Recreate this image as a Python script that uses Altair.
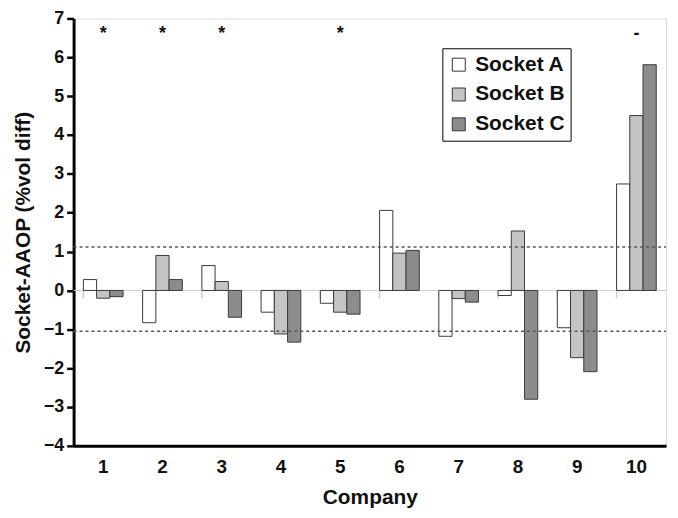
import altair as alt
import pandas as pd

companies = ["1", "2", "3", "4", "5", "6", "7", "8", "9", "10"]
socket_a = [0.28, -0.83, 0.64, -0.56, -0.33, 2.06, -1.18, -0.13, -0.96, 2.74]
socket_b = [-0.20, 0.90, 0.23, -1.12, -0.56, 0.96, -0.21, 1.53, -1.73, 4.50]
socket_c = [-0.16, 0.28, -0.69, -1.33, -0.61, 1.03, -0.30, -2.80, -2.09, 5.81]
series = ["Socket A", "Socket B", "Socket C"]
colors = ["#ffffff", "#c4c4c4", "#8c8c8c"]
threshold_lines = [1.12, -1.05]
mark_companies = ["1", "2", "3", "5", "10"]
mark_symbols = ["*", "*", "*", "*", "-"]
mark_level = 6.6
y_ticks = [-4, -3, -2, -1, 0, 1, 2, 3, 4, 5, 6, 7]

rows = []
for name, vals in zip(series, [socket_a, socket_b, socket_c]):
    for c, v in zip(companies, vals):
        rows.append({"Company": c, "Socket": name, "value": v})
df = pd.DataFrame(rows)
marks_df = pd.DataFrame({"Company": mark_companies, "sym": mark_symbols, "y": [mark_level] * len(mark_companies)})
thr_df = pd.DataFrame({"y": threshold_lines})
comp_df = pd.DataFrame({"Company": companies})

FONT = "Liberation Sans"

xscale = alt.Scale(domain=companies, paddingInner=0.33, paddingOuter=0.165)
yscale = alt.Scale(domain=[-4, 7], nice=False)

x_axis = alt.Axis(title="Company", labelAngle=0, ticks=False, labelPadding=12,
                  titlePadding=10, labelFontSize=19, titleFontSize=21,
                  labelFontWeight="bold", titleFontWeight="bold",
                  domainColor="black", domainWidth=3, grid=False,
                  labelColor="#111", titleColor="#111")
y_axis = alt.Axis(title="Socket-AAOP (%vol diff)", values=y_ticks, labelOverlap=False,
                  tickSize=7, tickWidth=2.5, tickColor="black", labelFontSize=18,
                  titleFontSize=21, labelFontWeight="bold", titleFontWeight="bold",
                  domainColor="black", domainWidth=3, grid=False, labelPadding=3,
                  titlePadding=10, labelColor="#111", titleColor="#111")

x_enc = alt.X("Company:N", scale=xscale, sort=companies, axis=x_axis)

zero_line = alt.Chart(pd.DataFrame({"y": [0]})).mark_rule(color="#cccccc", strokeWidth=1).encode(
    x=alt.value(0),
    x2=alt.value(596),
    y=alt.Y("y:Q", scale=yscale, axis=y_axis),
)

bound_ticks = alt.Chart(comp_df).mark_rule(color="#cccccc", strokeWidth=1.5).encode(
    x=alt.X("Company:N", scale=xscale, sort=companies, bandPosition=0, axis=x_axis),
    y=alt.datum(0, scale=yscale, axis=y_axis),
    y2=alt.datum(-0.2),
)

bars = alt.Chart(df).mark_bar(stroke="#3a3a3a", strokeWidth=1).encode(
    x=x_enc,
    xOffset=alt.XOffset("Socket:N", sort=series, scale=alt.Scale(domain=series, paddingInner=0, paddingOuter=0)),
    y=alt.Y("value:Q", scale=yscale, axis=y_axis),
    fill=alt.Fill("Socket:N", sort=series, scale=alt.Scale(domain=series, range=colors),
                  legend=alt.Legend(title=None, orient="none", legendX=371, legendY=30,
                                    labelFont=FONT, labelFontSize=21, labelFontWeight="bold",
                                    labelColor="#111", symbolType="square", symbolSize=170,
                                    symbolStrokeColor="#333", symbolStrokeWidth=1,
                                    rowPadding=8, padding=6, strokeColor="black",
                                    fillColor="white", labelOffset=6)),
)

thr = alt.Chart(thr_df).mark_rule(color="#555555", strokeWidth=1.5, strokeDash=[3, 3]).encode(
    x=alt.value(0),
    x2=alt.value(596),
    y=alt.Y("y:Q", scale=yscale, axis=y_axis),
)

stars = alt.Chart(marks_df).mark_text(font=FONT, fontSize=18, fontWeight="bold", color="#111",
                                      baseline="middle", dy=0).encode(
    x=alt.X("Company:N", scale=xscale, sort=companies, axis=x_axis),
    y=alt.Y("y:Q", scale=yscale, axis=y_axis),
    text="sym:N",
)

chart = alt.layer(zero_line, bound_ticks, bars, thr, stars).properties(
    width=596, height=430,
    autosize=alt.AutoSizeParams(type="none"),
    padding={"left": 66, "top": 9, "right": 4, "bottom": 62},
).configure_view(stroke="black", strokeWidth=2.5).configure_axis(
    labelFont=FONT, titleFont=FONT
).configure(background="white")

chart.save("out.html", embed_options={"renderer": "svg", "actions": False})
